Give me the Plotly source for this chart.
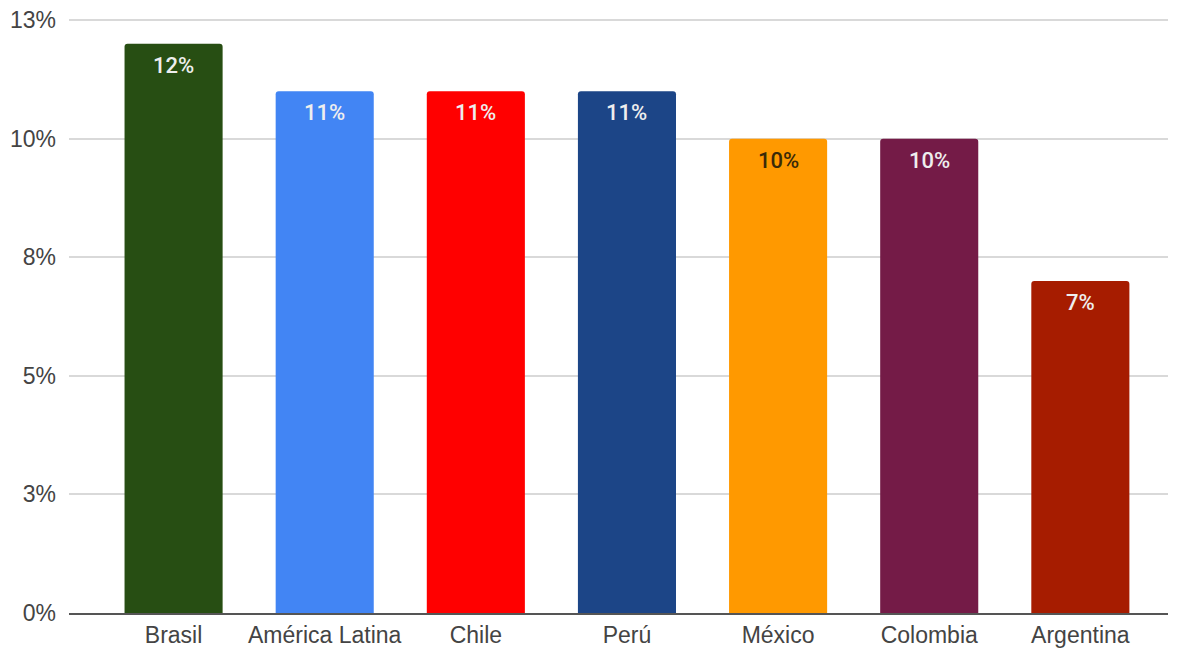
import plotly.graph_objects as go

categories = ["Brasil", "América Latina", "Chile", "Perú", "México", "Colombia", "Argentina"]
values = [12, 11, 11, 11, 10, 10, 7]
labels = ["12%", "11%", "11%", "11%", "10%", "10%", "7%"]
bar_colors = ["#274e13", "#4285f4", "#ff0000", "#1c4587", "#ff9900", "#741b47", "#a61c00"]
label_colors = ["#eeeeee", "#eeeeee", "#eeeeee", "#eeeeee", "#3a2a08", "#eeeeee", "#eeeeee"]
tick_vals = [0, 2.5, 5, 7.5, 10, 12.5]
tick_text = ["0%", "3%", "5%", "8%", "10%", "13%"]

fig = go.Figure(go.Bar(
    x=categories, y=values,
    marker=dict(color=bar_colors, line=dict(width=0)),
    hoverinfo="x+y",
))

for cat, val, lab, col in zip(categories, values, labels, label_colors):
    fig.add_annotation(
        x=cat, y=val, text=lab, showarrow=False,
        yanchor="top", yshift=-7,
        font=dict(family="Roboto, Arial, sans-serif", size=22, color=col, weight=500),
    )

# top tick label drawn as annotation (axis hides it at the paper edge)
fig.add_annotation(
    xref="paper", x=0, xanchor="right", xshift=-11,
    yref="y", y=tick_vals[-1], yanchor="middle",
    text=tick_text[-1], showarrow=False,
    font=dict(family="Liberation Sans, Arial, sans-serif", size=23, color="#444444"),
)

fig.update_layout(
    width=1172, height=644,
    margin=dict(l=61, r=12, t=10, b=39),
    paper_bgcolor="white", plot_bgcolor="white",
    bargap=0.351, barcornerradius=3,
    showlegend=False,
    font=dict(family="Liberation Sans, Arial, sans-serif", size=23, color="#444444"),
)
fig.update_xaxes(
    range=[-0.692, 6.58], showgrid=False, showline=True, linecolor="#555555", linewidth=2,
    ticks="", tickfont=dict(size=23, color="#444444"), automargin=False,
)
fig.update_yaxes(
    range=[0, 12.545], tickvals=tick_vals, ticktext=tick_text,
    showgrid=True, gridcolor="#d9d9d9", gridwidth=2, zeroline=False,
    showline=False, ticks="", ticklabelstandoff=12, automargin=False,
    tickfont=dict(size=23, color="#444444"),
)

fig.write_html("out.html")
